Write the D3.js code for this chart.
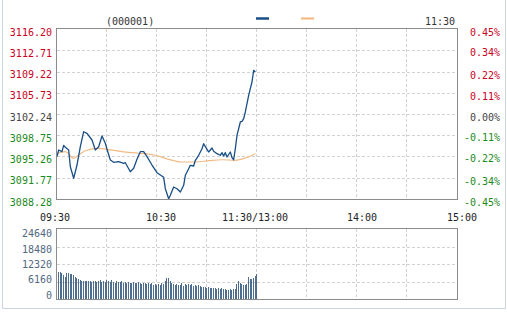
<!DOCTYPE html>
<html>
<head>
<meta charset="utf-8">
<script src="https://cdn.jsdelivr.net/npm/d3@7"></script>
<style>
  body { margin: 0; background: #fff; }
  svg { display: block; font-family: "DejaVu Sans Mono", monospace; font-size: 10px; }
</style>
</head>
<body>
<svg></svg>
<script>
// data
let stockCode = "(000001)";
let lastTime = "11:30";
let preClose = 3102.24;

let priceTicks = [3116.20, 3112.71, 3109.22, 3105.73, 3102.24, 3098.75, 3095.26, 3091.77, 3088.28];
let pctTicks = [0.45, 0.34, 0.22, 0.11, 0.00, -0.11, -0.22, -0.34, -0.45];
let volTicks = [24640, 18480, 12320, 6160, 0];
let timeTicks = [0, 60, 120, 180, 240];
let timeLabels = ["09:30", "10:30", "11:30/13:00", "14:00", "15:00"];

// minute since 09:30, price
let priceMinutes = [0, 1, 3, 4, 5, 7, 8, 10, 12, 14, 16, 18, 21, 23, 25, 27, 29, 30, 32, 34,
  37, 40, 41, 44, 46, 48, 50, 52, 54, 57, 60, 62, 64, 65, 67, 68, 70, 72, 74, 76,
  77, 79, 80, 82, 83, 85, 87, 88, 90, 91, 93, 94, 96, 98, 99, 100, 101, 102, 104, 105,
  106, 107, 108, 110, 111, 112, 113, 115, 116, 117, 118, 119];
let prices = [3095.23, 3096.33, 3096.05, 3097.10, 3096.77, 3096.33, 3093.58, 3091.68, 3093.86, 3096.87,
  3099.33, 3099.07, 3097.97, 3096.33, 3096.87, 3098.63, 3097.43, 3096.44, 3094.68, 3094.31,
  3094.41, 3094.14, 3094.24, 3092.76, 3093.32, 3094.80, 3096.05, 3096.05, 3095.23, 3093.86,
  3092.60, 3092.22, 3091.84, 3089.97, 3088.33, 3088.89, 3090.25, 3089.97, 3089.43, 3090.53,
  3092.17, 3093.26, 3093.81, 3093.70, 3094.64, 3095.46, 3096.54, 3097.36, 3096.44, 3096.00,
  3096.66, 3096.11, 3095.72, 3095.46, 3095.89, 3095.34, 3095.89, 3095.18, 3096.00, 3095.07,
  3094.73, 3096.54, 3098.74, 3100.93, 3101.04, 3101.47, 3102.57, 3105.31, 3106.40, 3107.50,
  3109.42, 3109.14];

let avgMinutes = [0, 5, 10, 13, 17, 25, 30, 39, 49, 59, 67, 75, 83, 91, 99, 107, 113, 119];
let avgPrices = [3095.79, 3096.05, 3094.96, 3095.51, 3096.21, 3096.61, 3096.44, 3096.05, 3095.79,
  3095.46, 3094.80, 3094.36, 3094.36, 3094.57, 3094.73, 3094.64, 3095.01, 3095.72];

// one bar per minute, 09:30 - 11:29
let volumes = [9500, 9400, 9200, 8300, 7800, 9300, 9000, 8700, 8800, 8400,
  7700, 7300, 7000, 6700, 6500, 6400, 6300, 6400, 6200, 6300,
  6100, 6400, 6200, 5900, 6300, 6600, 6100, 6300, 6000, 6700,
  6300, 5900, 6600, 6100, 5800, 6400, 6100, 5900, 6200, 5800,
  6100, 5700, 6000, 5800, 5600, 6000, 5700, 5500, 5900, 5600,
  5400, 5800, 5500, 5300, 5600, 5200, 5500, 5100, 5400, 5000,
  5300, 5100, 5500, 5200, 6300, 7500, 7300, 6400, 5700, 5200,
  4900, 5300, 4800, 5000, 5600, 4700, 5200, 4900, 5400, 4800,
  5300, 4700, 5000, 4600, 4900, 4500, 4400, 4200, 4300, 3900,
  4100, 3800, 4000, 3700, 3900, 3600, 3800, 3500, 3700, 3400,
  3600, 3300, 3200, 3500, 3000, 3400, 3600, 5200, 6300, 5800,
  5400, 5100, 5000, 5300, 7800, 7000, 7200, 7400, 8000, 8800];

let width = 507;
let height = 314;
let plotLeft = 57, plotRight = 457;
let plotTop = 29, plotBottom = 199;
let volTop = 229, volBottom = 299;

let font = "'DejaVu Sans Mono', monospace";
let red = "#c8001e";
let green = "#1c8a1c";
let grey = "#444";
let frame = "#8c8c8c";
let gridColor = "#d2d2d2";

let svg = d3.select("svg").attr("width", width).attr("height", height);

let xScale = d3.scaleLinear().domain([0, 240]).range([plotLeft, plotRight]);
let yScale = d3.scaleLinear().domain([3088.28, 3116.20]).range([plotBottom, plotTop]);
let pctScale = d3.scaleLinear().domain([-0.45, 0.45]).range([plotBottom, plotTop]);
let volScale = d3.scaleLinear().domain([0, 24640]).range([volBottom, volTop]);
let volLabelScale = d3.scaleLinear().domain([0, 24640]).range([295, 233.5]);

let colorFor = (v) => (v > 0 ? red : v < 0 ? green : grey);

// outer frame
svg.append("path")
  .attr("d", "M2.5,-1V308.5H505.5V-1")
  .attr("fill", "none")
  .attr("stroke", "#c9d5e1");

// grid
let gridMinutes = d3.range(30, 240, 30);
let grid = svg.append("g")
  .attr("stroke", gridColor)
  .attr("stroke-dasharray", "3,2")
  .attr("shape-rendering", "crispEdges");

grid.selectAll(".vg").data(gridMinutes).enter().append("line")
  .attr("x1", (d) => Math.round(xScale(d)) - 0.5)
  .attr("x2", (d) => Math.round(xScale(d)) - 0.5)
  .attr("y1", plotTop).attr("y2", plotBottom);
grid.selectAll(".vv").data(gridMinutes).enter().append("line")
  .attr("x1", (d) => Math.round(xScale(d)) - 0.5)
  .attr("x2", (d) => Math.round(xScale(d)) - 0.5)
  .attr("y1", volTop).attr("y2", volBottom);
grid.selectAll(".hg").data(priceTicks.slice(1, -1)).enter().append("line")
  .attr("x1", plotLeft).attr("x2", plotRight)
  .attr("y1", (d) => Math.round(yScale(d)) + 0.5)
  .attr("y2", (d) => Math.round(yScale(d)) + 0.5);
grid.selectAll(".hv").data(volTicks.slice(1, -1)).enter().append("line")
  .attr("x1", plotLeft).attr("x2", plotRight)
  .attr("y1", (d) => Math.round(volScale(d)) + 0.5)
  .attr("y2", (d) => Math.round(volScale(d)) + 0.5);

// volume bars
svg.append("g")
  .attr("fill", "#4f6e8e")
  .attr("shape-rendering", "crispEdges")
  .selectAll("rect")
  .data(volumes)
  .enter()
  .append("rect")
  .attr("x", (d, i) => Math.round(xScale(i)) + 1)
  .attr("width", 1)
  .attr("y", (d) => volScale(d))
  .attr("height", (d) => volBottom - volScale(d));

// average line
svg.append("path")
  .datum(avgMinutes.map((m, i) => [m, avgPrices[i]]))
  .attr("fill", "none")
  .attr("stroke", "#f2bb86")
  .attr("stroke-width", 1.2)
  .attr("d", d3.line().x((d) => xScale(d[0])).y((d) => yScale(d[1])).curve(d3.curveMonotoneX));

// price line
svg.append("path")
  .datum(priceMinutes.map((m, i) => [m, prices[i]]))
  .attr("fill", "none")
  .attr("stroke", "#194e86")
  .attr("stroke-width", 1.3)
  .attr("stroke-linejoin", "round")
  .attr("d", d3.line().x((d) => xScale(d[0])).y((d) => yScale(d[1])));

// panel frames
svg.append("rect")
  .attr("x", plotLeft - 0.5).attr("y", plotTop - 0.5)
  .attr("width", plotRight - plotLeft + 1).attr("height", plotBottom - plotTop + 1)
  .attr("fill", "none").attr("stroke", frame);
svg.append("rect")
  .attr("x", plotLeft - 0.5).attr("y", volTop - 0.5)
  .attr("width", plotRight - plotLeft + 1).attr("height", volBottom - volTop + 1)
  .attr("fill", "none").attr("stroke", frame);

// price axis (left)
let priceAxis = svg.append("g")
  .attr("transform", "translate(" + (plotLeft - 5) + ",0)")
  .call(d3.axisLeft(yScale).tickValues(priceTicks).tickSize(0).tickPadding(0).tickFormat(d3.format(".2f")));
priceAxis.select(".domain").remove();
priceAxis.attr("font-family", font).attr("font-size", 10);
priceAxis.selectAll("text")
  .attr("dy", "0.6em")
  .attr("fill", (d) => colorFor(Math.round((d - preClose) * 100)));

// percent axis (right)
let pctAxis = svg.append("g")
  .attr("transform", "translate(" + plotRight + ",0)")
  .call(d3.axisRight(pctScale).tickValues(pctTicks).tickSize(0).tickFormat((d) => d.toFixed(2) + "%"));
pctAxis.select(".domain").remove();
pctAxis.attr("font-family", font).attr("font-size", 10);
pctAxis.selectAll("text")
  .attr("x", 43)
  .attr("dy", "0.6em")
  .attr("text-anchor", "end")
  .attr("fill", (d) => colorFor(d));

// volume axis
let volAxis = svg.append("g")
  .attr("transform", "translate(" + (plotLeft - 5) + ",0)")
  .call(d3.axisLeft(volLabelScale).tickValues(volTicks).tickSize(0).tickPadding(0).tickFormat(d3.format("d")));
volAxis.select(".domain").remove();
volAxis.attr("font-family", font).attr("font-size", 10);
volAxis.selectAll("text").attr("fill", "#52687f");

// time labels
let timeNudge = [-2, 4, -2, 5, 5];
svg.append("g")
  .selectAll("text")
  .data(timeTicks)
  .enter()
  .append("text")
  .attr("x", (d, i) => xScale(d) + timeNudge[i])
  .attr("y", 220.5)
  .attr("text-anchor", "middle")
  .attr("fill", "#222")
  .text((d, i) => timeLabels[i]);

// header
svg.append("text").attr("x", 106).attr("y", 24.5).attr("fill", "#333").text(stockCode);
svg.append("text").attr("x", 455).attr("y", 24.5).attr("text-anchor", "end").attr("fill", "#333").text(lastTime);
svg.append("line")
  .attr("x1", 256).attr("x2", 269).attr("y1", 18.5).attr("y2", 18.5)
  .attr("stroke", "#194e86").attr("stroke-width", 2.5);
svg.append("line")
  .attr("x1", 301).attr("x2", 314).attr("y1", 18.5).attr("y2", 18.5)
  .attr("stroke", "#f2b478").attr("stroke-width", 2);
</script>
</body>
</html>
